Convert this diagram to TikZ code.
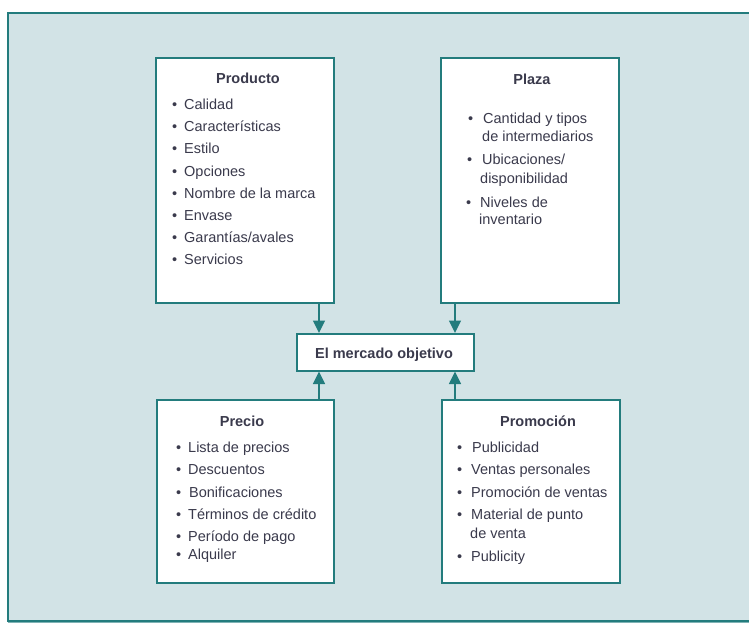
\documentclass[tikz,border=0pt]{standalone}
\usepackage{fontspec}
\setmainfont{Liberation Sans}
\usetikzlibrary{arrows.meta}
\definecolor{panelfill}{HTML}{D2E3E6}
\definecolor{teal1}{HTML}{237C7D}
\definecolor{teal2}{HTML}{7FB3B5}
\definecolor{txt}{HTML}{3A3A4C}
\tikzset{
  panel/.style={fill=panelfill, draw=teal1, line width=1.6pt},
  mixbox/.style={fill=white, draw=teal1, line width=1.5pt},
  title/.style={font=\fontsize{14.5}{17}\selectfont\bfseries, text=txt, inner sep=0pt, anchor=base},
  item/.style={font=\fontsize{14.5}{17}\selectfont, text=txt, inner sep=0pt, anchor=base west},
  flow/.style={draw=teal1, line width=1.6pt, -{Triangle[width=12pt,length=12.5pt]}}
}
% bullet item: bullet, then the text a fixed distance to the right
\newcommand{\bul}[1]{\makebox[12pt][l]{\textbullet}#1}
\begin{document}
\begin{tikzpicture}[x=1pt,y=-1pt]
\useasboundingbox (0,0) rectangle (749,624);
% background panel (runs past the right edge)
\draw[panel] (8,13) rectangle (770,621);
\draw[teal2, line width=1.2pt] (8,622.5) -- (770,622.5);

% the four boxes and the centre box
\node[mixbox, minimum width=178pt, minimum height=245pt, anchor=north west] (prod) at (155,57) {};
\node[mixbox, minimum width=178pt, minimum height=245pt, anchor=north west] (plaza) at (440,57) {};
\node[mixbox, minimum width=177pt, minimum height=183pt, anchor=north west] (precio) at (156,399) {};
\node[mixbox, minimum width=178pt, minimum height=183pt, anchor=north west] (promo) at (441,399) {};
\node[mixbox, minimum width=177pt, minimum height=37pt, anchor=north west] (target) at (296,333) {};
\node[title] (targett) at (384,358) {El mercado objetivo};

% connectors
\coordinate (pa) at (319,302);
\coordinate (pb) at (455,302);
\coordinate (qa) at (319,399);
\coordinate (qb) at (455,399);
\draw[flow] (pa) -- (pa |- target.north);
\draw[flow] (pb) -- (pb |- target.north);
\draw[flow] (qa) -- (qa |- target.south);
\draw[flow] (qb) -- (qb |- target.south);

% Producto
\node[title] (prodt) at (248,83) {Producto};
\node[item] (p1) at (172,109) {\bul{Calidad}};
\node[item] (p2) at (172,131) {\bul{Características}};
\node[item] (p3) at (172,153) {\bul{Estilo}};
\node[item] (p4) at (172,176) {\bul{Opciones}};
\node[item] (p5) at (172,198) {\bul{Nombre de la marca}};
\node[item] (p6) at (172,220) {\bul{Envase}};
\node[item] (p7) at (172,242) {\bul{Garantías/avales}};
\node[item] (p8) at (172,264) {\bul{Servicios}};

% Plaza
\node[title] (plazat) at (532,84) {Plaza};
\node[item] (l1) at (468,123) {\makebox[15pt][l]{\textbullet}Cantidad y tipos};
\node[item] (l1b) at (482,141) {de intermediarios};
\node[item] (l2) at (467,164) {\makebox[15pt][l]{\textbullet}Ubicaciones/};
\node[item] (l2b) at (480,183) {disponibilidad};
\node[item] (l3) at (466,207) {\makebox[14pt][l]{\textbullet}Niveles de};
\node[item] (l3b) at (479,224) {inventario};

% Precio
\node[title] (preciot) at (242,426) {Precio};
\node[item] (r1) at (176,452) {\bul{Lista de precios}};
\node[item] (r2) at (176,474) {\bul{Descuentos}};
\node[item] (r3) at (176,497) {\makebox[13pt][l]{\textbullet}Bonificaciones};
\node[item] (r4) at (176,519) {\bul{Términos de crédito}};
\node[item] (r5) at (176,541) {\bul{Período de pago}};
\node[item] (r6) at (176,559) {\bul{Alquiler}};

% Promoción
\node[title] (promot) at (538,426) {Promoción};
\node[item] (m1) at (457,452) {\makebox[15pt][l]{\textbullet}Publicidad};
\node[item] (m2) at (457,474) {\makebox[14pt][l]{\textbullet}Ventas personales};
\node[item] (m3) at (457,497) {\makebox[14pt][l]{\textbullet}Promoción de ventas};
\node[item] (m4) at (457,519) {\makebox[14pt][l]{\textbullet}Material de punto};
\node[item] (m4b) at (470,538) {de venta};
\node[item] (m5) at (457,561) {\makebox[14pt][l]{\textbullet}Publicity};
\end{tikzpicture}
\end{document}
